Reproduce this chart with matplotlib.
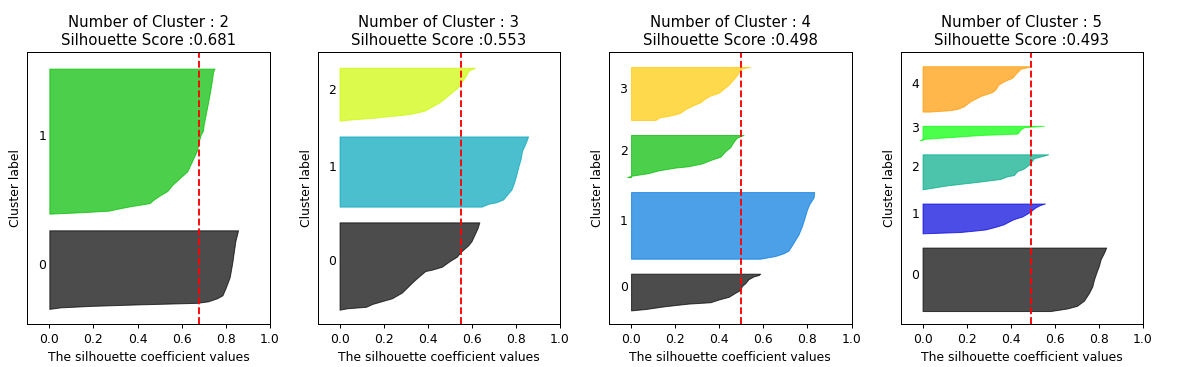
import numpy as np
import matplotlib
matplotlib.use('Agg')
import matplotlib.pyplot as plt
import matplotlib.cm as cm

# number of clusters per panel and the average silhouette score shown in titles
n_clusters = [2, 3, 4, 5]
sil_scores = [0.681, 0.553, 0.498, 0.493]

# samples per cluster label, for each panel
sizes_k2 = [53, 97]
sizes_k3 = [62, 50, 38]
sizes_k4 = [28, 50, 32, 40]
sizes_k5 = [50, 24, 28, 12, 36]

# sorted silhouette profile of each cluster:
# (rank inside the cluster, silhouette value)
k2_c0 = [(0, 0.0), (1, 0.05), (2, 0.19), (3, 0.41), (4, 0.67), (5, 0.72), (7, 0.76), (9, 0.785),
         (14, 0.80), (21, 0.818), (30, 0.829), (38, 0.837), (45, 0.844), (52, 0.856)]
k2_c1 = [(0, 0.0), (1, 0.15), (2, 0.27), (3, 0.30), (5, 0.37), (7, 0.455), (9, 0.47), (12, 0.50),
         (15, 0.535), (19, 0.557), (23, 0.587), (26, 0.61), (28, 0.625), (30, 0.632), (35, 0.648),
         (42, 0.67), (48, 0.678), (52, 0.686), (55, 0.697), (59, 0.70), (67, 0.711), (76, 0.723),
         (85, 0.734), (94, 0.743), (96, 0.749)]

k3_c0 = [(0, 0.0), (1, 0.035), (2, 0.12), (4, 0.148), (6, 0.193), (8, 0.238), (12, 0.283),
         (20, 0.336), (23, 0.358), (27, 0.389), (28, 0.42), (30, 0.464), (34, 0.50), (37, 0.532),
         (40, 0.547), (43, 0.569), (45, 0.584), (48, 0.599), (53, 0.614), (57, 0.626), (61, 0.634)]
k3_c1 = [(0, 0.645), (2, 0.675), (3, 0.71), (5, 0.742), (8, 0.758), (12, 0.78), (17, 0.792),
         (23, 0.803), (29, 0.813), (33, 0.821), (39, 0.828), (43, 0.84), (46, 0.848), (49, 0.855)]
k3_c2 = [(0, 0.0), (1, 0.06), (2, 0.15), (3, 0.21), (4, 0.28), (5, 0.33), (7, 0.385), (10, 0.42),
         (13, 0.455), (17, 0.487), (21, 0.518), (23, 0.535), (26, 0.548), (29, 0.562), (32, 0.575),
         (35, 0.585), (36, 0.60), (37, 0.614)]

k4_c0 = [(0, 0.0), (1, 0.065), (3, 0.15), (5, 0.26), (6, 0.36), (8, 0.397), (10, 0.443), (13, 0.473),
         (15, 0.495), (18, 0.503), (20, 0.518), (23, 0.533), (25, 0.556), (26, 0.579), (27, 0.586)]
k4_c1 = [(0, 0.586), (2, 0.654), (4, 0.692), (6, 0.714), (10, 0.73), (14, 0.745), (18, 0.76),
         (24, 0.775), (30, 0.787), (36, 0.798), (40, 0.808), (43, 0.82), (45, 0.828), (49, 0.831)]
k4_c2 = [(0, -0.018), (1, 0.0), (3, 0.08), (5, 0.125), (7, 0.20), (8, 0.26), (10, 0.32), (13, 0.367),
         (15, 0.405), (19, 0.427), (22, 0.45), (26, 0.465), (29, 0.48), (30, 0.495), (31, 0.51)]
k4_c3 = [(0, 0.11), (2, 0.13), (3, 0.17), (5, 0.22), (8, 0.246), (11, 0.284), (13, 0.314), (16, 0.337),
         (18, 0.36), (20, 0.397), (23, 0.42), (26, 0.443), (30, 0.465), (33, 0.48), (36, 0.491),
         (38, 0.503), (39, 0.54)]

k5_c0 = [(0, 0.58), (2, 0.656), (4, 0.70), (8, 0.732), (14, 0.755), (19, 0.77), (24, 0.777),
         (30, 0.789), (35, 0.80), (40, 0.808), (45, 0.823), (49, 0.833)]
k5_c1 = [(0, 0.0), (1, 0.17), (2, 0.23), (3, 0.285), (5, 0.33), (7, 0.368), (9, 0.39), (11, 0.414),
         (13, 0.452), (16, 0.482), (18, 0.497), (20, 0.512), (22, 0.535), (23, 0.555)]
k5_c2 = [(0, 0.0), (3, 0.11), (6, 0.262), (8, 0.353), (10, 0.383), (11, 0.414), (14, 0.429),
         (16, 0.459), (19, 0.482), (22, 0.497), (24, 0.505), (25, 0.527), (26, 0.55), (27, 0.57)]
k5_c3 = [(0, -0.014), (1, 0.01), (4, 0.27), (5, 0.43), (8, 0.444), (10, 0.46), (11, 0.55)]
k5_c4 = [(0, 0.03), (1, 0.12), (2, 0.157), (4, 0.186), (8, 0.217), (12, 0.262), (15, 0.315),
         (17, 0.33), (21, 0.345), (24, 0.376), (26, 0.406), (29, 0.421), (33, 0.444), (34, 0.467),
         (35, 0.494)]

panel_sizes = [sizes_k2, sizes_k3, sizes_k4, sizes_k5]
panel_profiles = [[k2_c0, k2_c1],
                  [k3_c0, k3_c1, k3_c2],
                  [k4_c0, k4_c1, k4_c2, k4_c3],
                  [k5_c0, k5_c1, k5_c2, k5_c3, k5_c4]]

# the reference looks like a notebook figure scaled up
SCALE = 1.24
plt.rcParams['font.size'] = 10 * SCALE
plt.rcParams['axes.titlesize'] = 12 * SCALE
plt.rcParams['axes.linewidth'] = 0.8 * SCALE
plt.rcParams['xtick.major.width'] = 0.8 * SCALE
plt.rcParams['xtick.major.size'] = 3.5 * SCALE
plt.rcParams['xtick.major.pad'] = 3.5 * SCALE
plt.rcParams['axes.labelpad'] = 4 * SCALE
plt.rcParams['lines.linewidth'] = 1.5 * SCALE

DPI = 72
fig = plt.figure(figsize=(1195 / DPI, 367 / DPI), dpi=DPI)
lefts = [27.3, 317.5, 609.0, 900.5]

for ind, n_cluster in enumerate(n_clusters):
    ax = fig.add_axes([lefts[ind] / 1195, 43 / 367, 242.5 / 1195, 272 / 367])
    sizes = panel_sizes[ind]
    n_samples = sum(sizes)
    ax.set_xlim([-0.1, 1])
    ax.set_ylim([0, n_samples + (n_cluster + 1) * 10])

    y_lower = 10
    for i in range(n_cluster):
        ranks = np.array([p[0] for p in panel_profiles[ind][i]])
        vals = np.array([p[1] for p in panel_profiles[ind][i]])
        size = sizes[i]
        y_upper = y_lower + size
        color = cm.nipy_spectral(float(i) / n_cluster)
        ax.fill_betweenx(y_lower + ranks, 0, vals,
                         facecolor=color, edgecolor=color, alpha=0.7)
        ax.text(-0.05, y_lower + 0.5 * size, str(i))
        y_lower = y_upper + 10

    ax.set_title('Number of Cluster : ' + str(n_cluster) + '\n'
                 'Silhouette Score :' + str(sil_scores[ind]), pad=6 * SCALE)
    ax.set_xlabel("The silhouette coefficient values")
    ax.set_ylabel("Cluster label")
    ax.set_yticks([])
    ax.set_xticks([0, 0.2, 0.4, 0.6, 0.8, 1])
    ax.axvline(x=sil_scores[ind], color="red", linestyle="--")

fig.savefig('out.png', dpi=DPI)
